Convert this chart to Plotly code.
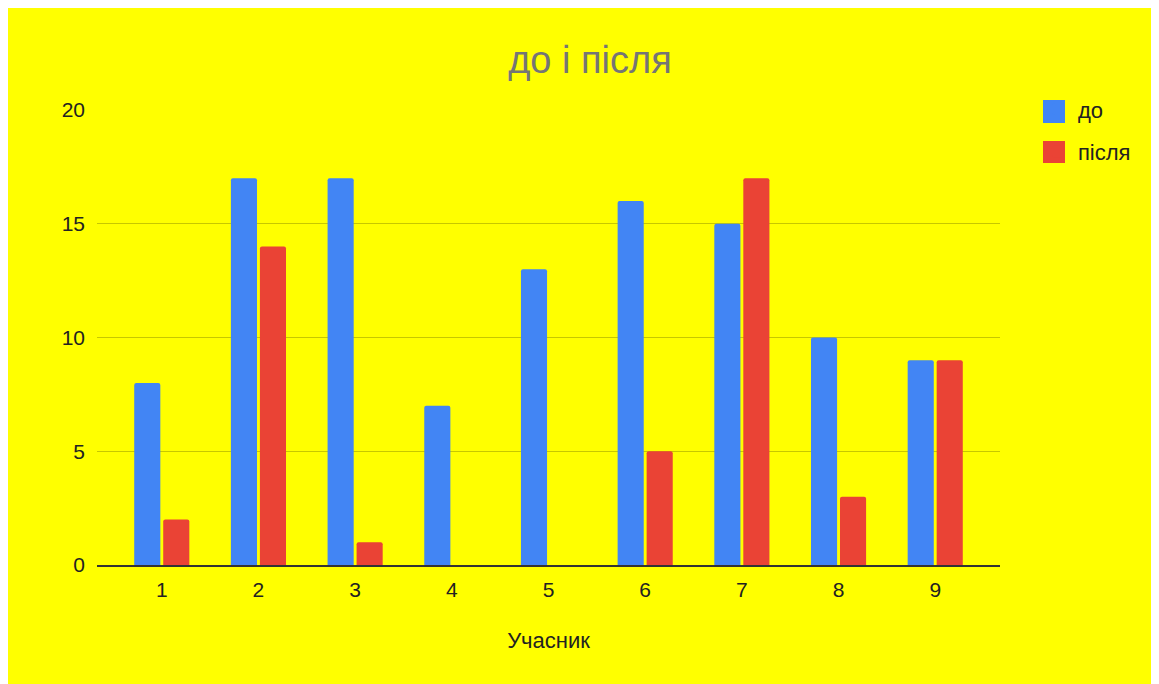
import plotly.graph_objects as go

participants = [1, 2, 3, 4, 5, 6, 7, 8, 9]
before = [8, 17, 17, 7, 13, 16, 15, 10, 9]
after = [2, 14, 1, 0, 0, 5, 17, 3, 9]
y_ticks = [0, 5, 10, 15, 20]
series_colors = ["#4285F4", "#EA4335"]

# the page adds an 8px body margin, so the figure is sized to leave a white rim
W, H = 1145, 676
L, R, T, B = 89, 153, 102, 119
PW, PH = W - L - R, H - T - B

fig = go.Figure()
fig.add_trace(go.Bar(x=participants, y=before, name="до", legendgroup="a",
                     marker_color=series_colors[0], marker_line_width=0))
fig.add_trace(go.Bar(x=participants, y=after, name="після", legendgroup="b",
                     marker_color=series_colors[1], marker_line_width=0))

# larger legend swatches drawn over the (small) built-in legend symbols
def px_x(px):
    return (px - 8 - L) / PW

def px_y(py):
    return (H - B - (py - 8)) / PH

for (top, bot), col in zip([(100, 123), (141, 163)], series_colors):
    fig.add_shape(type="rect", xref="paper", yref="paper",
                  x0=px_x(1043), x1=px_x(1065), y0=px_y(bot), y1=px_y(top),
                  fillcolor=col, line_width=0, layer="above")

font = "Liberation Sans, Arial, sans-serif"
fig.update_layout(
    width=W, height=H,
    margin=dict(l=L, r=R, t=T, b=B, pad=0),
    paper_bgcolor="#FFFF00",
    plot_bgcolor="#FFFF00",
    barmode="group",
    bargap=0.4,
    bargroupgap=0.1,
    barcornerradius=2,
    font=dict(family=font, size=21, color="#222222"),
    title=dict(text="до і після", x=(590 - 8) / W, xanchor="center", xref="container",
               y=1 - (60 - 8) / H, yanchor="middle",
               font=dict(family=font, size=38, color="#757575")),
    legend=dict(x=1.042, xanchor="left", y=1.048, yanchor="top",
                font=dict(family=font, size=22, color="#222222"),
                bgcolor="rgba(0,0,0,0)", tracegroupgap=11),
    xaxis=dict(range=[0.33, 9.67], tickvals=participants, ticktext=[str(p) for p in participants],
               showgrid=False, zeroline=False, showline=True, linecolor="#333333", linewidth=1.5,
               ticks="", ticklabelstandoff=5,
               title=dict(text="Учасник", standoff=33, font=dict(family=font, size=22, color="#222222"))),
    yaxis=dict(range=[0, 20], tickvals=y_ticks, showgrid=True, gridcolor="rgba(0,0,0,0.22)", gridwidth=1,
               zeroline=False, showline=False, ticks="", ticklabelstandoff=11),
)

fig.write_html("out.html")
